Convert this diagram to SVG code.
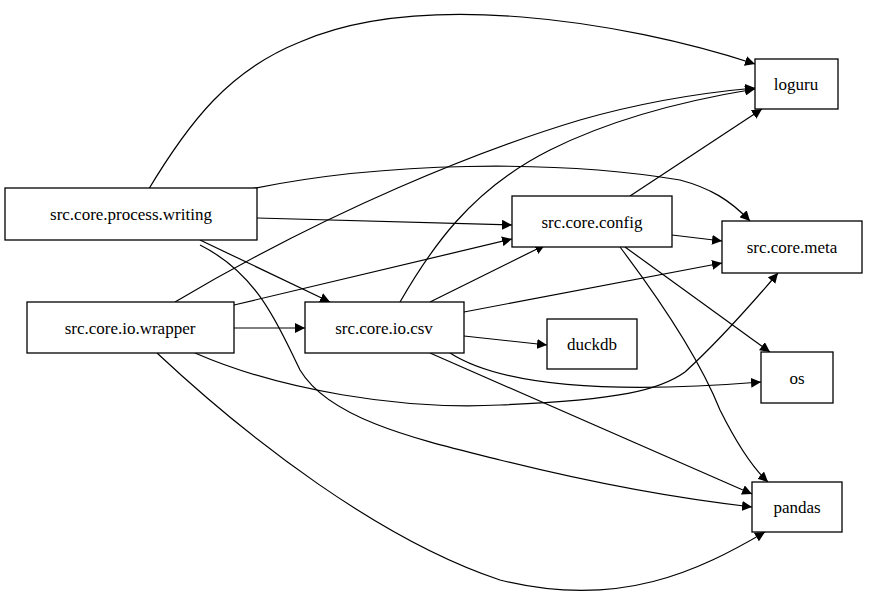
<svg xmlns="http://www.w3.org/2000/svg" width="879" height="597" viewBox="0 0 879 597">
<style>
.n rect{fill:#fff;stroke:#000;stroke-width:1.3}
.n text{font-family:'Liberation Serif','DejaVu Serif',serif;font-size:17px;text-anchor:middle;dominant-baseline:central}
.e path{fill:none;stroke:#000;stroke-width:1.2}
</style>
<defs><marker id="a" viewBox="0 0 10 10" refX="10" refY="5" markerWidth="10" markerHeight="10" markerUnits="userSpaceOnUse" orient="auto"><path d="M0,0L10,5L0,10z"/></marker></defs>
<rect width="879" height="597" fill="#fff"/>
<g class="e">
<path d="M147,192C190,120 230,70 300,42C420,-10 620,20 755,64" marker-end="url(#a)"/>
<path d="M237,192C380,160 560,160 680,180C710,188 730,200 750,221" marker-end="url(#a)"/>
<path d="M257,218L512,225" marker-end="url(#a)"/>
<path d="M200,240L330,302" marker-end="url(#a)"/>
<path d="M200,245C260,275 280,330 300,370C330,420 420,440 500,460C600,485 690,500 752,507" marker-end="url(#a)"/>
<path d="M175,302C330,210 480,150 580,120C650,100 710,92 755,88" marker-end="url(#a)"/>
<path d="M234,305L512,239" marker-end="url(#a)"/>
<path d="M234,328L305,328" marker-end="url(#a)"/>
<path d="M195,353C280,390 400,410 500,405C620,400 660,390 685,372C720,340 755,300 778,273" marker-end="url(#a)"/>
<path d="M157,353C250,440 380,540 500,580C620,610 700,570 765,532" marker-end="url(#a)"/>
<path d="M400,302C430,250 470,190 550,150C620,115 700,98 755,89" marker-end="url(#a)"/>
<path d="M430,302L545,245" marker-end="url(#a)"/>
<path d="M464,312L722,263" marker-end="url(#a)"/>
<path d="M464,336L547,345" marker-end="url(#a)"/>
<path d="M450,353C500,385 600,395 761,382" marker-end="url(#a)"/>
<path d="M430,353L752,494" marker-end="url(#a)"/>
<path d="M630,196L762,109" marker-end="url(#a)"/>
<path d="M672,235L722,241" marker-end="url(#a)"/>
<path d="M625,247L770,352" marker-end="url(#a)"/>
<path d="M620,247C660,300 700,360 720,410C740,450 755,470 768,482" marker-end="url(#a)"/>
</g>
<g id="writing" class="n"><rect x="5" y="188" width="252" height="52"/><text x="131" y="214">src.core.process.writing</text></g>
<g id="wrapper" class="n"><rect x="27" y="302" width="207" height="51"/><text x="130" y="328">src.core.io.wrapper</text></g>
<g id="csv" class="n"><rect x="305" y="302" width="159" height="51"/><text x="384" y="328">src.core.io.csv</text></g>
<g id="config" class="n"><rect x="512" y="196" width="160" height="51"/><text x="592" y="222">src.core.config</text></g>
<g id="duckdb" class="n"><rect x="547" y="319" width="90" height="50"/><text x="592" y="344">duckdb</text></g>
<g id="loguru" class="n"><rect x="755" y="59" width="83" height="50"/><text x="796" y="84">loguru</text></g>
<g id="meta" class="n"><rect x="722" y="221" width="140" height="52"/><text x="792" y="247">src.core.meta</text></g>
<g id="os" class="n"><rect x="761" y="352" width="72" height="51"/><text x="797" y="378">os</text></g>
<g id="pandas" class="n"><rect x="752" y="482" width="90" height="50"/><text x="797" y="507">pandas</text></g>
</svg>
